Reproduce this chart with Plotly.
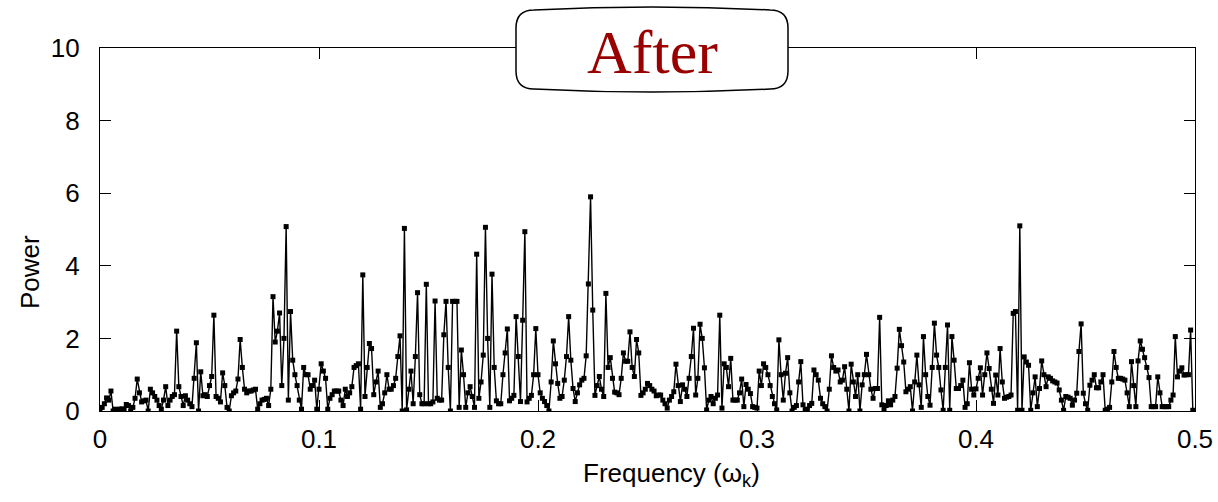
import plotly.graph_objects as go

# Power spectrum values at frequencies k/1000, k = 0..500
power = [
    0.0, 0.1, 0.2, 0.36, 0.3, 0.55, 0.0, 0.05, 0.03, 0.05,
    0.06, 0.04, 0.18, 0.15, 0.0, 0.1, 0.35, 0.88, 0.5, 0.25,
    0.28, 0.3, 0.0, 0.6, 0.5, 0.4, 0.3, 0.15, 0.05, 0.3,
    0.67, 0.15, 0.3, 0.4, 0.45, 2.2, 0.67, 0.4, 0.15, 0.42,
    0.3, 0.2, 0.12, 0.9, 1.88, 0.0, 1.08, 0.42, 0.45, 0.4,
    0.7, 0.95, 2.64, 0.4, 0.35, 0.25, 1.05, 0.7, 0.1, 0.0,
    0.42, 0.5, 0.55, 0.88, 1.97, 1.2, 0.6, 0.5, 0.55, 0.55,
    0.58, 0.6, 0.05, 0.2, 0.3, 0.32, 0.35, 0.15, 0.6, 3.15,
    1.9, 2.2, 2.7, 0.7, 2.0, 5.08, 0.3, 2.74, 1.4, 1.0,
    0.7, 0.3, 0.05, 1.2, 1.0, 1.0, 0.6, 0.7, 0.85, 0.05,
    0.6, 1.3, 1.1, 0.9, 0.05, 0.35, 0.45, 0.55, 0.55, 0.55,
    0.3, 0.15, 0.6, 0.4, 0.5, 0.67, 1.2, 1.25, 1.3, 0.05,
    3.75, 0.4, 1.2, 1.86, 1.72, 0.45, 0.8, 1.1, 0.1, 0.2,
    0.5, 1.0, 0.6, 0.6, 0.7, 0.9, 1.5, 2.07, 0.0, 5.03,
    0.03, 0.6, 1.1, 0.2, 1.5, 3.26, 0.45, 0.2, 0.2, 3.49,
    0.2, 0.2, 0.25, 3.03, 0.35, 0.3, 0.3, 2.1, 3.02, 1.2,
    0.0, 3.02, 3.02, 3.02, 0.1, 1.68, 1.0, 0.1, 0.5, 0.67,
    0.4, 0.1, 4.32, 0.35, 0.8, 1.54, 5.06, 2.0, 0.1, 3.77,
    1.2, 0.28, 0.2, 0.2, 1.0, 1.6, 2.26, 0.28, 0.35, 0.43,
    2.6, 1.5, 0.26, 2.5, 4.94, 0.25, 0.35, 0.43, 1.0, 2.27,
    1.0, 0.5, 0.35, 0.26, 0.15, 0.0, 0.8, 1.93, 1.3, 0.76,
    0.35, 0.4, 0.85, 1.5, 2.6, 1.4, 0.62, 0.26, 0.5, 0.72,
    0.85, 0.9, 1.52, 3.5, 5.9, 2.78, 0.43, 0.7, 0.95, 0.6,
    0.4, 3.24, 1.2, 1.47, 0.9, 0.52, 0.5, 0.45, 0.9, 1.6,
    1.37, 1.37, 2.18, 1.2, 0.95, 1.97, 1.6, 0.43, 0.5, 0.6,
    0.76, 0.7, 0.6, 0.55, 0.42, 0.44, 0.44, 0.3, 0.2, 0.08,
    0.3, 0.4, 0.53, 1.29, 0.7, 0.26, 0.72, 0.6, 0.4, 0.9,
    1.5, 2.28, 0.44, 0.9, 2.39, 2.0, 1.19, 0.03, 0.3, 0.4,
    0.2, 0.35, 0.44, 2.64, 0.08, 1.3, 1.2, 0.67, 1.45, 0.3,
    0.3, 0.3, 0.5, 0.88, 0.12, 0.73, 0.6, 0.48, 0.12, 0.1,
    0.08, 1.1, 0.7, 1.3, 1.2, 1.0, 0.7, 0.4, 0.2, 0.03,
    1.96, 1.0, 0.3, 1.04, 1.47, 0.5, 0.0, 0.1, 0.15, 0.8,
    1.36, 0.17, 0.03, 0.05, 0.15, 0.21, 1.13, 1.0, 0.85, 0.35,
    0.2, 0.12, 0.0, 0.6, 1.52, 1.2, 1.1, 1.13, 0.8, 0.85,
    1.22, 0.6, 0.0, 1.29, 0.8, 0.4, 1.0, 0.0, 0.72, 1.0,
    1.56, 1.0, 0.6, 0.35, 0.62, 0.62, 2.58, 0.17, 0.03, 0.15,
    0.28, 0.17, 0.3, 0.4, 1.18, 2.25, 1.8, 1.35, 0.53, 0.6,
    0.67, 0.0, 0.8, 1.54, 0.72, 0.1, 2.05, 1.0, 0.4, 0.16,
    1.2, 2.42, 1.54, 1.2, 0.58, 0.02, 1.2, 2.37, 0.02, 2.05,
    1.4, 0.62, 0.62, 0.7, 0.85, 0.1, 0.2, 1.33, 0.6, 0.44,
    0.61, 0.9, 1.19, 0.44, 1.0, 1.6, 1.17, 0.6, 0.21, 0.99,
    0.44, 1.72, 0.8, 0.35, 0.38, 0.4, 0.44, 2.69, 2.74, 0.02,
    5.1, 0.02, 1.49, 1.35, 1.26, 0.02, 0.5, 0.94, 0.12, 0.62,
    1.38, 1.0, 0.67, 0.94, 0.9, 0.83, 0.8, 0.77, 0.58, 0.3,
    0.02, 0.4, 0.38, 0.35, 0.16, 0.3, 0.49, 1.64, 2.4, 0.49,
    0.2, 0.02, 0.71, 0.85, 1.0, 0.64, 0.64, 0.8, 1.0, 0.02,
    0.05, 0.1, 0.8, 1.64, 1.2, 0.9, 0.9, 0.88, 0.85, 0.5,
    0.12, 1.36, 0.7, 0.12, 1.38, 1.93, 1.7, 1.47, 1.2, 0.92,
    0.12, 0.12, 0.12, 0.94, 0.5, 0.12, 0.12, 0.12, 0.12, 0.3,
    0.44, 2.05, 0.94, 1.1, 1.19, 0.99, 1.0, 1.0, 2.23, 0.02,
    0.0,
]
freq = [k / 1000 for k in range(len(power))]

x_ticks = [0, 0.1, 0.2, 0.3, 0.4, 0.5]
x_tick_labels = ["0", "0.1", "0.2", "0.3", "0.4", "0.5"]
y_ticks = [0, 2, 4, 6, 8, 10]
y_tick_labels = ["0", "2", "4", "6", "8", "10"]
x_title = "Frequency (ω<sub>k</sub>)"
y_title = "Power"
box_title = "After"

fig = go.Figure()
fig.add_trace(go.Scatter(
    x=freq, y=power, mode="lines+markers",
    line=dict(color="black", width=1.4),
    marker=dict(color="black", size=5, symbol="square"),
    showlegend=False,
))

font_main = "Liberation Sans, Arial, sans-serif"
W, H = 1218, 502
L, R, T, B = 100, 23, 48, 91
pw, ph = W - L - R, H - T - B

fig.update_layout(
    width=W, height=H,
    margin=dict(l=L, r=R, t=T, b=B),
    plot_bgcolor="white", paper_bgcolor="white",
    font=dict(family=font_main, size=26, color="black"),
    xaxis=dict(
        range=[0, 0.5], tickvals=x_ticks, ticktext=x_tick_labels,
        ticks="inside", ticklen=11, tickwidth=1.2, tickcolor="black",
        showline=True, linecolor="black", linewidth=1.2, mirror="ticks",
        showgrid=False, zeroline=False, automargin=False,
        ticklabelstandoff=5,
    ),
    yaxis=dict(
        range=[0, 10], tickvals=y_ticks, ticktext=y_tick_labels,
        ticks="inside", ticklen=11, tickwidth=1.2, tickcolor="black",
        showline=True, linecolor="black", linewidth=1.2, mirror="ticks",
        showgrid=False, zeroline=False, automargin=False,
        ticklabelstandoff=14,
    ),
)

def px_x(px):
    return (px - L) / pw

def px_y(py):
    return (H - B - py) / ph

# axis titles placed as in the reference
fig.add_annotation(
    text=x_title, x=px_x(671), y=px_y(474), xref="paper", yref="paper",
    showarrow=False, xanchor="center", yanchor="middle",
    font=dict(size=26),
)
fig.add_annotation(
    text=y_title, x=px_x(30), y=px_y(272), xref="paper", yref="paper",
    showarrow=False, xanchor="center", yanchor="middle", textangle=-90,
    font=dict(size=26),
)

# rounded "After" box
x0, x1, y0, y1, r = 516, 788, 10, 89, 18
path = (
    f"M {px_x(x0 + r)},{px_y(y0)} "
    f"Q {px_x((x0 + x1) / 2)},{px_y(y0 - 6)} {px_x(x1 - r)},{px_y(y0)} "
    f"Q {px_x(x1)},{px_y(y0)} {px_x(x1)},{px_y(y0 + r)} "
    f"L {px_x(x1)},{px_y(y1 - r)} "
    f"Q {px_x(x1)},{px_y(y1)} {px_x(x1 - r)},{px_y(y1)} "
    f"Q {px_x((x0 + x1) / 2)},{px_y(y1 + 6)} {px_x(x0 + r)},{px_y(y1)} "
    f"Q {px_x(x0)},{px_y(y1)} {px_x(x0)},{px_y(y1 - r)} "
    f"L {px_x(x0)},{px_y(y0 + r)} "
    f"Q {px_x(x0)},{px_y(y0)} {px_x(x0 + r)},{px_y(y0)} Z"
)
fig.add_shape(type="path", path=path, xref="paper", yref="paper",
              fillcolor="white", line=dict(color="black", width=1.5),
              layer="above")
fig.add_annotation(
    text=box_title, x=px_x(652), y=px_y(52), xref="paper", yref="paper",
    showarrow=False, xanchor="center", yanchor="middle",
    font=dict(family="Liberation Serif, Times New Roman, serif",
              size=62, color="#990000"),
)

fig.write_html("out.html")
